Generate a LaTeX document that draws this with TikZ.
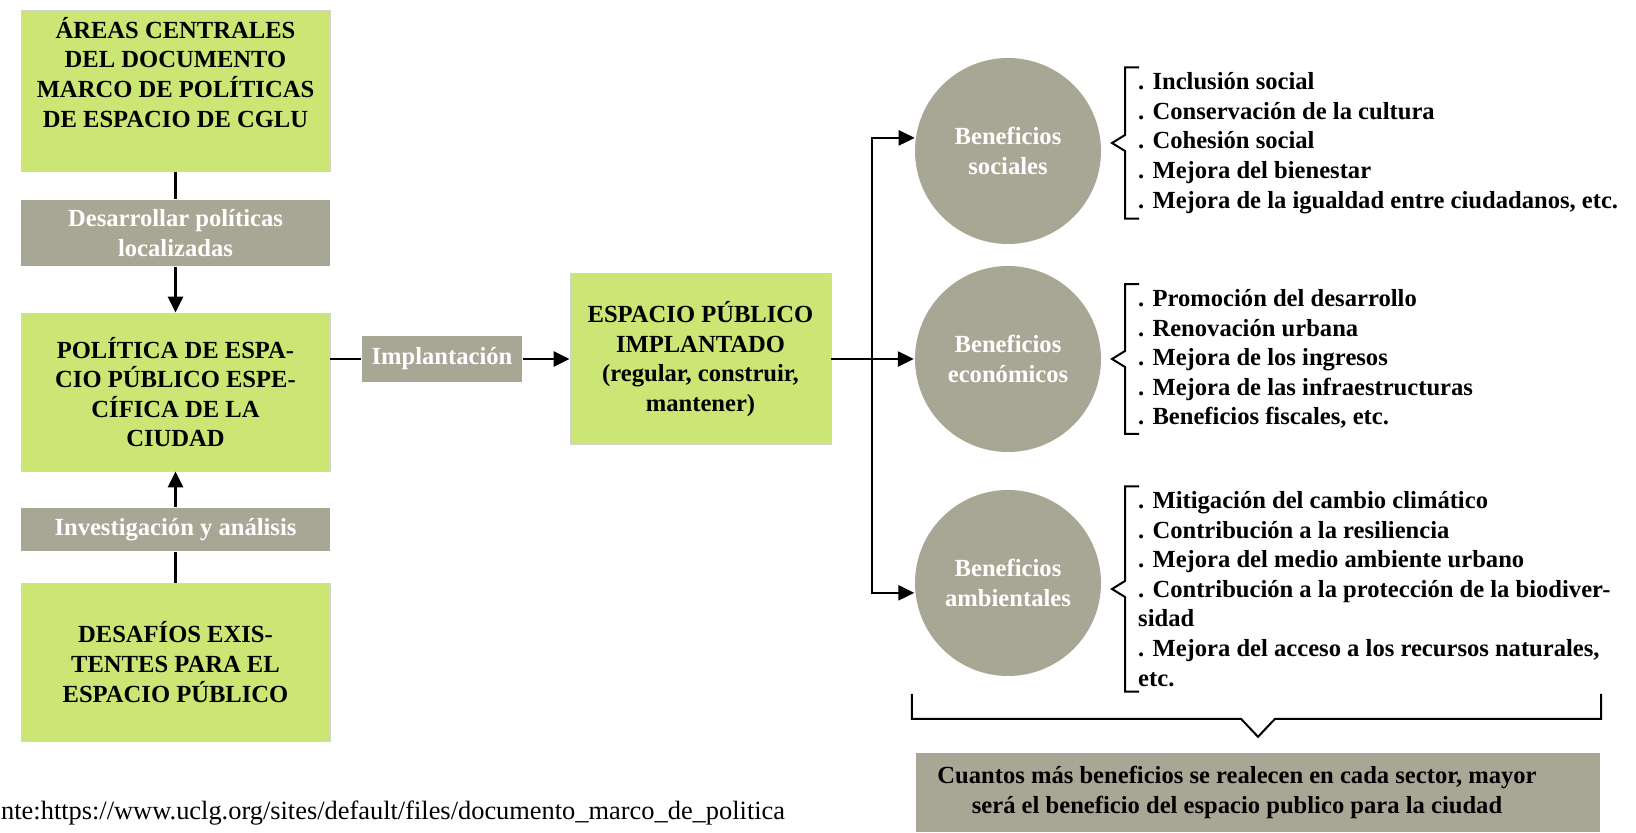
\documentclass[tikz,border=0pt]{standalone}
\usepackage{fontspec}
\setmainfont{Liberation Serif}
\usetikzlibrary{arrows.meta,shapes,positioning}
\definecolor{verdecaja}{RGB}{204,230,117}
\definecolor{griscaja}{RGB}{168,167,150}
\tikzset{
  basic/.style     = {font=\fontsize{12.3pt}{14.8pt}\selectfont\bfseries, align=center},
  verde/.style     = {basic, rectangle, fill=verdecaja, draw=gray!35, thin,
                      minimum width=154.5pt, minimum height=79pt},
  gris/.style      = {basic, rectangle, fill=griscaja, text=white,
                      minimum width=154.5pt},
  beneficio/.style = {basic, circle, fill=griscaja, text=white,
                      minimum size=93pt, inner sep=0pt},
  lista/.style     = {basic, align=left, inner xsep=0pt, inner ysep=2pt}
}

\begin{document}
\begin{tikzpicture}[>={Triangle[length=8pt,width=7.5pt]}, line width=1.2pt]
\useasboundingbox (0,0) rectangle (818pt,416pt);

% columna izquierda
\node[verde] (areas) at (87.75pt,370.5pt) {ÁREAS CENTRALES\\DEL DOCUMENTO\\MARCO DE POLÍTICAS\\DE ESPACIO DE CGLU\\[4pt]\mbox{}};
\node[gris, below of=areas, node distance=71pt, minimum height=33pt] (desarrollar) {Desarrollar políticas\\localizadas};
\node[verde, below of=desarrollar, node distance=79.5pt] (politica) {POLÍTICA DE ESPA-\\CIO PÚBLICO ESPE-\\CÍFICA DE LA\\CIUDAD};
\node[gris, below of=politica, node distance=68.75pt, minimum height=21.5pt] (investigacion) {Investigación y análisis};
\node[verde, below of=investigacion, node distance=66.25pt] (desafios) {DESAFÍOS EXIS-\\TENTES PARA EL\\ESPACIO PÚBLICO};

% implantacion
\node[gris, right of=politica, node distance=133.25pt, yshift=16.5pt, minimum width=80pt, minimum height=23pt] (impl) {Implantación};
\node[verde, right of=impl, node distance=129.25pt, minimum width=130.5pt, minimum height=85.5pt] (espacio) {ESPACIO PÚBLICO\\IMPLANTADO\\(regular, construir,\\mantener)};
\coordinate[right of=espacio, node distance=85.75pt] (reparto);

% los tres beneficios
\node[beneficio, right of=espacio, node distance=153.75pt] (eco) {Beneficios\\económicos};
\node[beneficio, above of=eco, node distance=104pt] (soc) {Beneficios\\sociales};
\node[beneficio, below of=eco, node distance=112pt] (amb) {Beneficios\\ambientales};

\node[lista, right of=soc, node distance=64.5pt, anchor=west, yshift=4pt] (lsoc) {. Inclusión social\\. Conservación de la cultura\\. Cohesión social\\. Mejora del bienestar\\. Mejora de la igualdad entre ciudadanos, etc.};
\node[lista, right of=eco, node distance=64.5pt, anchor=west] (lecon) {. Promoción del desarrollo\\. Renovación urbana\\. Mejora de los ingresos\\. Mejora de las infraestructuras\\. Beneficios fiscales, etc.};
\node[lista, right of=amb, node distance=64.5pt, anchor=west, yshift=-3pt] (lamb) {. Mitigación del cambio climático\\. Contribución a la resiliencia\\. Mejora del medio ambiente urbano\\. Contribución a la protección de la biodiver-\\sidad\\. Mejora del acceso a los recursos naturales,\\etc.};

\node[gris, text=black, minimum width=342pt, minimum height=39.5pt] (resumen) at (629pt,19.75pt) {\begin{tabular}{@{}c@{}}Cuantos más beneficios se realecen en cada sector, mayor\\será el beneficio del espacio publico para la ciudad\end{tabular}\hspace{21pt}};

\node[anchor=base west, inner sep=0pt, font=\fontsize{13.2pt}{15.8pt}\selectfont] (fuente) at (0pt,6.5pt) {nte:https://www.uclg.org/sites/default/files/documento\_marco\_de\_politica};

% conexiones
\draw (areas) -- (desarrollar);
\draw[->] (desarrollar) -- (politica);
\draw (desafios) -- (investigacion);
\draw[->] (investigacion) -- (politica);
\draw (politica.east |- impl) -- (impl);
\draw[->] (impl) -- (espacio.west |- impl);
\draw[->] (espacio) -- (eco);
\draw[->] (reparto) |- (soc.172);
\draw[->] (reparto) |- (amb.186);

% llaves
\foreach \grupo in {lsoc,lecon,lamb}
  \draw[line width=1pt] ([xshift=1pt]\grupo.north west) -- ([xshift=-6pt]\grupo.north west)
    -- ([xshift=-6pt,yshift=4pt]\grupo.west) -- ([xshift=-12.5pt]\grupo.west)
    -- ([xshift=-6pt,yshift=-4pt]\grupo.west) -- ([xshift=-6pt]\grupo.south west)
    -- ([xshift=1pt]\grupo.south west);
\draw[line width=1pt] ([xshift=-1.5pt,yshift=29pt]resumen.north west) -- ([xshift=-1.5pt,yshift=16.5pt]resumen.north west)
  -- ([xshift=-8.5pt,yshift=16.5pt]resumen.north) -- ([yshift=7.5pt]resumen.north)
  -- ([xshift=8.5pt,yshift=16.5pt]resumen.north) -- ([yshift=16.5pt]resumen.north east)
  -- ([yshift=29pt]resumen.north east);
\end{tikzpicture}
\end{document}
